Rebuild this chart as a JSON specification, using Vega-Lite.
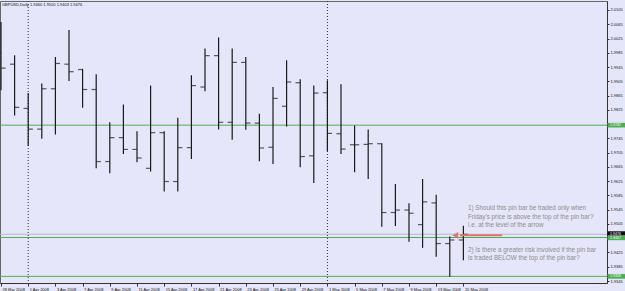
{
  "$schema": "https://vega.github.io/schema/vega-lite/v6.json",
  "width": 607,
  "height": 282,
  "autosize": {"type": "none"},
  "padding": {"left": 0, "top": 1, "right": 18, "bottom": 8},
  "background": "#e6e6fa",
  "config": {
    "view": {"stroke": "#666666", "strokeWidth": 1},
    "font": "Liberation Sans",
    "axis": {"grid": false, "title": null, "labelFontSize": 4, "labelColor": "#111111", "tickColor": "#333333", "domainColor": "#333333", "labelOverlap": false, "labelFlush": false}
  },
  "datasets": {
    "bars": [
      {"i": 0, "date": "28 Mar 2008", "open": 1.9985, "high": 2.0071, "low": 1.9880, "close": 1.9942},
      {"i": 1, "date": "31 Mar 2008", "open": 1.9953, "high": 1.9978, "low": 1.9809, "close": 1.9832},
      {"i": 2, "date": "1 Apr 2008", "open": 1.9829, "high": 1.9872, "low": 1.9724, "close": 1.9771},
      {"i": 3, "date": "2 Apr 2008", "open": 1.9771, "high": 1.9899, "low": 1.9744, "close": 1.9884},
      {"i": 4, "date": "3 Apr 2008", "open": 1.9884, "high": 1.9973, "low": 1.9756, "close": 1.9955},
      {"i": 5, "date": "4 Apr 2008", "open": 1.9953, "high": 2.0049, "low": 1.9906, "close": 1.9932},
      {"i": 6, "date": "7 Apr 2008", "open": 1.9938, "high": 1.9940, "low": 1.9831, "close": 1.9882},
      {"i": 7, "date": "8 Apr 2008", "open": 1.9882, "high": 1.9925, "low": 1.9661, "close": 1.9680},
      {"i": 8, "date": "9 Apr 2008", "open": 1.9680, "high": 1.9790, "low": 1.9647, "close": 1.9747},
      {"i": 9, "date": "10 Apr 2008", "open": 1.9747, "high": 1.9840, "low": 1.9701, "close": 1.9714},
      {"i": 10, "date": "11 Apr 2008", "open": 1.9714, "high": 1.9765, "low": 1.9678, "close": 1.9690},
      {"i": 11, "date": "14 Apr 2008", "open": 1.9661, "high": 1.9893, "low": 1.9652, "close": 1.9761},
      {"i": 12, "date": "15 Apr 2008", "open": 1.9761, "high": 1.9765, "low": 1.9596, "close": 1.9624},
      {"i": 13, "date": "16 Apr 2008", "open": 1.9624, "high": 1.9803, "low": 1.9596, "close": 1.9719},
      {"i": 14, "date": "17 Apr 2008", "open": 1.9719, "high": 1.9922, "low": 1.9687, "close": 1.9893},
      {"i": 15, "date": "18 Apr 2008", "open": 1.9889, "high": 1.9997, "low": 1.9877, "close": 1.9977},
      {"i": 16, "date": "21 Apr 2008", "open": 1.9977, "high": 2.0028, "low": 1.9770, "close": 1.9790},
      {"i": 17, "date": "22 Apr 2008", "open": 1.9790, "high": 1.9997, "low": 1.9741, "close": 1.9958},
      {"i": 18, "date": "23 Apr 2008", "open": 1.9958, "high": 1.9973, "low": 1.9769, "close": 1.9788},
      {"i": 19, "date": "24 Apr 2008", "open": 1.9788, "high": 1.9814, "low": 1.9681, "close": 1.9718},
      {"i": 20, "date": "25 Apr 2008", "open": 1.9720, "high": 1.9889, "low": 1.9673, "close": 1.9857},
      {"i": 21, "date": "28 Apr 2008", "open": 1.9835, "high": 1.9964, "low": 1.9778, "close": 1.9903},
      {"i": 22, "date": "29 Apr 2008", "open": 1.9901, "high": 1.9911, "low": 1.9664, "close": 1.9694},
      {"i": 23, "date": "30 Apr 2008", "open": 1.9696, "high": 1.9893, "low": 1.9620, "close": 1.9872},
      {"i": 24, "date": "1 May 2008", "open": 1.9873, "high": 1.9908, "low": 1.9709, "close": 1.9759},
      {"i": 25, "date": "2 May 2008", "open": 1.9758, "high": 1.9897, "low": 1.9701, "close": 1.9715},
      {"i": 26, "date": "5 May 2008", "open": 1.9727, "high": 1.9781, "low": 1.9650, "close": 1.9727},
      {"i": 27, "date": "6 May 2008", "open": 1.9728, "high": 1.9770, "low": 1.9631, "close": 1.9730},
      {"i": 28, "date": "7 May 2008", "open": 1.9730, "high": 1.9731, "low": 1.9497, "close": 1.9537},
      {"i": 29, "date": "8 May 2008", "open": 1.9537, "high": 1.9617, "low": 1.9499, "close": 1.9544},
      {"i": 30, "date": "9 May 2008", "open": 1.9544, "high": 1.9563, "low": 1.9455, "close": 1.9535},
      {"i": 31, "date": "12 May 2008", "open": 1.9503, "high": 1.9631, "low": 1.9438, "close": 1.9567},
      {"i": 32, "date": "13 May 2008", "open": 1.9564, "high": 1.9587, "low": 1.9413, "close": 1.9450},
      {"i": 33, "date": "14 May 2008", "open": 1.9450, "high": 1.9470, "low": 1.9357, "close": 1.9460},
      {"i": 34, "date": "15 May 2008", "open": 1.9460, "high": 1.9500, "low": 1.9403, "close": 1.9476}
    ],
    "seps": [{"i": 2}, {"i": 24}],
    "green": [{"price": 1.9782}, {"price": 1.9467}, {"price": 1.9358}],
    "bid": [{"price": 1.9476}],
    "tags": [
      {"x1": 44.6, "x2": 46.1, "xt": 44.78, "price": 1.9782, "lo": 1.97755, "hi": 1.97885, "label": "1.9782", "kind": "green"},
      {"x1": 44.6, "x2": 46.1, "xt": 44.78, "price": 1.9478, "lo": 1.94725, "hi": 1.94845, "label": "1.9476", "kind": "bid"},
      {"x1": 44.6, "x2": 46.1, "xt": 44.78, "price": 1.9465, "lo": 1.94595, "hi": 1.94715, "label": "1.9467", "kind": "green"},
      {"x1": 44.6, "x2": 46.1, "xt": 44.78, "price": 1.9358, "lo": 1.93515, "hi": 1.93645, "label": "1.9358", "kind": "green"}
    ],
    "arrow": [{"x1": 33.75, "x2": 36.85, "price": 1.9473, "head": 33.4}],
    "notes": [
      {"x": 34.34, "price": 1.9550, "text": "1) Should this pin bar be traded only when"},
      {"x": 34.34, "price": 1.9525, "text": "Friday's price is above the top of the pin bar?"},
      {"x": 34.34, "price": 1.9502, "text": "i.e. at the level of the arrow"},
      {"x": 34.34, "price": 1.9431, "text": "2) Is there a greater risk involved if the pin bar"},
      {"x": 34.34, "price": 1.9410, "text": "is traded BELOW the top of the pin bar?"}
    ],
    "head": [{"x": 0.07, "price": 2.0119, "text": "GBPUSD,Daily  1.9460 1.9500 1.9403 1.9476"}]
  },
  "layer": [
    {
      "data": {"name": "seps"},
      "mark": {"type": "rule", "color": "#333333", "strokeWidth": 1, "strokeDash": [1, 2]},
      "encoding": {
        "x": {"field": "i", "type": "quantitative",
          "scale": {"domain": [-0.0735, 44.56], "nice": false, "zero": false},
          "axis": {"orient": "bottom",
            "values": [0, 2, 4, 6, 8, 10, 12, 14, 16, 18, 20, 22, 24, 26, 28, 30, 32, 34],
            "labelExpr": "['28 Mar 2008','1 Apr 2008','3 Apr 2008','7 Apr 2008','9 Apr 2008','11 Apr 2008','15 Apr 2008','17 Apr 2008','21 Apr 2008','23 Apr 2008','25 Apr 2008','29 Apr 2008','1 May 2008','5 May 2008','7 May 2008','9 May 2008','13 May 2008','15 May 2008'][datum.value/2]",
            "labelAlign": "left", "labelBaseline": "top", "labelPadding": 1, "labelOffset": 1, "tickSize": 3}}
      }
    },
    {
      "data": {"name": "bid"},
      "mark": {"type": "rule", "color": "#b9b9c6", "strokeWidth": 1},
      "encoding": {
        "y": {"field": "price", "type": "quantitative",
          "scale": {"domain": [1.93394, 2.01302], "nice": false, "zero": false},
          "axis": {"orient": "right",
            "values": [1.9345, 1.9385, 1.9425, 1.9505, 1.9545, 1.9585, 1.9625, 1.9665, 1.9705, 1.9745, 1.9825, 1.9865, 1.9905, 1.9945, 1.9985, 2.0025, 2.0065, 2.0105],
            "format": ".4f", "labelAlign": "left", "labelPadding": 1, "tickSize": 2}}
      }
    },
    {
      "data": {"name": "green"},
      "mark": {"type": "rule", "color": "#4caf50", "strokeWidth": 1},
      "encoding": {"y": {"field": "price", "type": "quantitative",
          "axis": {"orient": "right",
            "values": [1.9345, 1.9385, 1.9425, 1.9505, 1.9545, 1.9585, 1.9625, 1.9665, 1.9705, 1.9745, 1.9825, 1.9865, 1.9905, 1.9945, 1.9985, 2.0025, 2.0065, 2.0105],
            "format": ".4f", "labelAlign": "left", "labelPadding": 1, "tickSize": 2}}}
    },
    {
      "data": {"name": "bars"},
      "mark": {"type": "rule", "color": "#1a1a1a", "strokeWidth": 1.2},
      "encoding": {
        "x": {"field": "i", "type": "quantitative",
          "axis": {"orient": "bottom",
            "values": [0, 2, 4, 6, 8, 10, 12, 14, 16, 18, 20, 22, 24, 26, 28, 30, 32, 34],
            "labelExpr": "['28 Mar 2008','1 Apr 2008','3 Apr 2008','7 Apr 2008','9 Apr 2008','11 Apr 2008','15 Apr 2008','17 Apr 2008','21 Apr 2008','23 Apr 2008','25 Apr 2008','29 Apr 2008','1 May 2008','5 May 2008','7 May 2008','9 May 2008','13 May 2008','15 May 2008'][datum.value/2]",
            "labelAlign": "left", "labelBaseline": "top", "labelPadding": 1, "labelOffset": 1, "tickSize": 3}},
        "y": {"field": "low", "type": "quantitative",
          "axis": {"orient": "right",
            "values": [1.9345, 1.9385, 1.9425, 1.9505, 1.9545, 1.9585, 1.9625, 1.9665, 1.9705, 1.9745, 1.9825, 1.9865, 1.9905, 1.9945, 1.9985, 2.0025, 2.0065, 2.0105],
            "format": ".4f", "labelAlign": "left", "labelPadding": 1, "tickSize": 2}},
        "y2": {"field": "high"}
      }
    },
    {
      "data": {"name": "bars"},
      "mark": {"type": "tick", "orient": "horizontal", "color": "#1a1a1a", "size": 4.5, "thickness": 1.2, "xOffset": -2.4},
      "encoding": {
        "x": {"field": "i", "type": "quantitative",
          "axis": {"orient": "bottom",
            "values": [0, 2, 4, 6, 8, 10, 12, 14, 16, 18, 20, 22, 24, 26, 28, 30, 32, 34],
            "labelExpr": "['28 Mar 2008','1 Apr 2008','3 Apr 2008','7 Apr 2008','9 Apr 2008','11 Apr 2008','15 Apr 2008','17 Apr 2008','21 Apr 2008','23 Apr 2008','25 Apr 2008','29 Apr 2008','1 May 2008','5 May 2008','7 May 2008','9 May 2008','13 May 2008','15 May 2008'][datum.value/2]",
            "labelAlign": "left", "labelBaseline": "top", "labelPadding": 1, "labelOffset": 1, "tickSize": 3}},
        "y": {"field": "open", "type": "quantitative",
          "axis": {"orient": "right",
            "values": [1.9345, 1.9385, 1.9425, 1.9505, 1.9545, 1.9585, 1.9625, 1.9665, 1.9705, 1.9745, 1.9825, 1.9865, 1.9905, 1.9945, 1.9985, 2.0025, 2.0065, 2.0105],
            "format": ".4f", "labelAlign": "left", "labelPadding": 1, "tickSize": 2}}
      }
    },
    {
      "data": {"name": "bars"},
      "mark": {"type": "tick", "orient": "horizontal", "color": "#1a1a1a", "size": 4.5, "thickness": 1.2, "xOffset": 2.4},
      "encoding": {
        "x": {"field": "i", "type": "quantitative",
          "axis": {"orient": "bottom",
            "values": [0, 2, 4, 6, 8, 10, 12, 14, 16, 18, 20, 22, 24, 26, 28, 30, 32, 34],
            "labelExpr": "['28 Mar 2008','1 Apr 2008','3 Apr 2008','7 Apr 2008','9 Apr 2008','11 Apr 2008','15 Apr 2008','17 Apr 2008','21 Apr 2008','23 Apr 2008','25 Apr 2008','29 Apr 2008','1 May 2008','5 May 2008','7 May 2008','9 May 2008','13 May 2008','15 May 2008'][datum.value/2]",
            "labelAlign": "left", "labelBaseline": "top", "labelPadding": 1, "labelOffset": 1, "tickSize": 3}},
        "y": {"field": "close", "type": "quantitative",
          "axis": {"orient": "right",
            "values": [1.9345, 1.9385, 1.9425, 1.9505, 1.9545, 1.9585, 1.9625, 1.9665, 1.9705, 1.9745, 1.9825, 1.9865, 1.9905, 1.9945, 1.9985, 2.0025, 2.0065, 2.0105],
            "format": ".4f", "labelAlign": "left", "labelPadding": 1, "tickSize": 2}}
      }
    },
    {
      "data": {"name": "arrow"},
      "mark": {"type": "rule", "color": "#e57373", "strokeWidth": 2},
      "encoding": {
        "x": {"field": "x1", "type": "quantitative",
          "axis": {"orient": "bottom",
            "values": [0, 2, 4, 6, 8, 10, 12, 14, 16, 18, 20, 22, 24, 26, 28, 30, 32, 34],
            "labelExpr": "['28 Mar 2008','1 Apr 2008','3 Apr 2008','7 Apr 2008','9 Apr 2008','11 Apr 2008','15 Apr 2008','17 Apr 2008','21 Apr 2008','23 Apr 2008','25 Apr 2008','29 Apr 2008','1 May 2008','5 May 2008','7 May 2008','9 May 2008','13 May 2008','15 May 2008'][datum.value/2]",
            "labelAlign": "left", "labelBaseline": "top", "labelPadding": 1, "labelOffset": 1, "tickSize": 3}},
        "x2": {"field": "x2"},
        "y": {"field": "price", "type": "quantitative",
          "axis": {"orient": "right",
            "values": [1.9345, 1.9385, 1.9425, 1.9505, 1.9545, 1.9585, 1.9625, 1.9665, 1.9705, 1.9745, 1.9825, 1.9865, 1.9905, 1.9945, 1.9985, 2.0025, 2.0065, 2.0105],
            "format": ".4f", "labelAlign": "left", "labelPadding": 1, "tickSize": 2}}
      }
    },
    {
      "data": {"name": "arrow"},
      "mark": {"type": "point", "shape": "triangle-left", "filled": true, "color": "#e57373", "size": 45, "opacity": 1},
      "encoding": {
        "x": {"field": "head", "type": "quantitative",
          "axis": {"orient": "bottom",
            "values": [0, 2, 4, 6, 8, 10, 12, 14, 16, 18, 20, 22, 24, 26, 28, 30, 32, 34],
            "labelExpr": "['28 Mar 2008','1 Apr 2008','3 Apr 2008','7 Apr 2008','9 Apr 2008','11 Apr 2008','15 Apr 2008','17 Apr 2008','21 Apr 2008','23 Apr 2008','25 Apr 2008','29 Apr 2008','1 May 2008','5 May 2008','7 May 2008','9 May 2008','13 May 2008','15 May 2008'][datum.value/2]",
            "labelAlign": "left", "labelBaseline": "top", "labelPadding": 1, "labelOffset": 1, "tickSize": 3}},
        "y": {"field": "price", "type": "quantitative",
          "axis": {"orient": "right",
            "values": [1.9345, 1.9385, 1.9425, 1.9505, 1.9545, 1.9585, 1.9625, 1.9665, 1.9705, 1.9745, 1.9825, 1.9865, 1.9905, 1.9945, 1.9985, 2.0025, 2.0065, 2.0105],
            "format": ".4f", "labelAlign": "left", "labelPadding": 1, "tickSize": 2}}
      }
    },
    {
      "data": {"name": "notes"},
      "mark": {"type": "text", "align": "left", "baseline": "middle", "fontSize": 6.3, "color": "#8c8c8c", "font": "Liberation Sans"},
      "encoding": {
        "x": {"field": "x", "type": "quantitative",
          "axis": {"orient": "bottom",
            "values": [0, 2, 4, 6, 8, 10, 12, 14, 16, 18, 20, 22, 24, 26, 28, 30, 32, 34],
            "labelExpr": "['28 Mar 2008','1 Apr 2008','3 Apr 2008','7 Apr 2008','9 Apr 2008','11 Apr 2008','15 Apr 2008','17 Apr 2008','21 Apr 2008','23 Apr 2008','25 Apr 2008','29 Apr 2008','1 May 2008','5 May 2008','7 May 2008','9 May 2008','13 May 2008','15 May 2008'][datum.value/2]",
            "labelAlign": "left", "labelBaseline": "top", "labelPadding": 1, "labelOffset": 1, "tickSize": 3}},
        "y": {"field": "price", "type": "quantitative",
          "axis": {"orient": "right",
            "values": [1.9345, 1.9385, 1.9425, 1.9505, 1.9545, 1.9585, 1.9625, 1.9665, 1.9705, 1.9745, 1.9825, 1.9865, 1.9905, 1.9945, 1.9985, 2.0025, 2.0065, 2.0105],
            "format": ".4f", "labelAlign": "left", "labelPadding": 1, "tickSize": 2}},
        "text": {"field": "text"}
      }
    },
    {
      "data": {"name": "head"},
      "mark": {"type": "text", "align": "left", "baseline": "middle", "fontSize": 4, "color": "#111111", "font": "Liberation Sans"},
      "encoding": {
        "x": {"field": "x", "type": "quantitative",
          "axis": {"orient": "bottom",
            "values": [0, 2, 4, 6, 8, 10, 12, 14, 16, 18, 20, 22, 24, 26, 28, 30, 32, 34],
            "labelExpr": "['28 Mar 2008','1 Apr 2008','3 Apr 2008','7 Apr 2008','9 Apr 2008','11 Apr 2008','15 Apr 2008','17 Apr 2008','21 Apr 2008','23 Apr 2008','25 Apr 2008','29 Apr 2008','1 May 2008','5 May 2008','7 May 2008','9 May 2008','13 May 2008','15 May 2008'][datum.value/2]",
            "labelAlign": "left", "labelBaseline": "top", "labelPadding": 1, "labelOffset": 1, "tickSize": 3}},
        "y": {"field": "price", "type": "quantitative",
          "axis": {"orient": "right",
            "values": [1.9345, 1.9385, 1.9425, 1.9505, 1.9545, 1.9585, 1.9625, 1.9665, 1.9705, 1.9745, 1.9825, 1.9865, 1.9905, 1.9945, 1.9985, 2.0025, 2.0065, 2.0105],
            "format": ".4f", "labelAlign": "left", "labelPadding": 1, "tickSize": 2}},
        "text": {"field": "text"}
      }
    },
    {
      "data": {"name": "tags"},
      "mark": {"type": "rect", "clip": false},
      "encoding": {
        "x": {"field": "x1", "type": "quantitative",
          "axis": {"orient": "bottom",
            "values": [0, 2, 4, 6, 8, 10, 12, 14, 16, 18, 20, 22, 24, 26, 28, 30, 32, 34],
            "labelExpr": "['28 Mar 2008','1 Apr 2008','3 Apr 2008','7 Apr 2008','9 Apr 2008','11 Apr 2008','15 Apr 2008','17 Apr 2008','21 Apr 2008','23 Apr 2008','25 Apr 2008','29 Apr 2008','1 May 2008','5 May 2008','7 May 2008','9 May 2008','13 May 2008','15 May 2008'][datum.value/2]",
            "labelAlign": "left", "labelBaseline": "top", "labelPadding": 1, "labelOffset": 1, "tickSize": 3}},
        "x2": {"field": "x2"},
        "y": {"field": "lo", "type": "quantitative",
          "axis": {"orient": "right",
            "values": [1.9345, 1.9385, 1.9425, 1.9505, 1.9545, 1.9585, 1.9625, 1.9665, 1.9705, 1.9745, 1.9825, 1.9865, 1.9905, 1.9945, 1.9985, 2.0025, 2.0065, 2.0105],
            "format": ".4f", "labelAlign": "left", "labelPadding": 1, "tickSize": 2}},
        "y2": {"field": "hi"},
        "color": {"field": "kind", "type": "nominal", "scale": {"domain": ["green", "bid"], "range": ["#4caf50", "#111111"]}, "legend": null}
      }
    },
    {
      "data": {"name": "tags"},
      "mark": {"type": "text", "align": "left", "baseline": "middle", "fontSize": 3.6, "color": "#ffffff", "font": "Liberation Sans", "clip": false},
      "encoding": {
        "x": {"field": "xt", "type": "quantitative",
          "axis": {"orient": "bottom",
            "values": [0, 2, 4, 6, 8, 10, 12, 14, 16, 18, 20, 22, 24, 26, 28, 30, 32, 34],
            "labelExpr": "['28 Mar 2008','1 Apr 2008','3 Apr 2008','7 Apr 2008','9 Apr 2008','11 Apr 2008','15 Apr 2008','17 Apr 2008','21 Apr 2008','23 Apr 2008','25 Apr 2008','29 Apr 2008','1 May 2008','5 May 2008','7 May 2008','9 May 2008','13 May 2008','15 May 2008'][datum.value/2]",
            "labelAlign": "left", "labelBaseline": "top", "labelPadding": 1, "labelOffset": 1, "tickSize": 3}},
        "y": {"field": "price", "type": "quantitative",
          "axis": {"orient": "right",
            "values": [1.9345, 1.9385, 1.9425, 1.9505, 1.9545, 1.9585, 1.9625, 1.9665, 1.9705, 1.9745, 1.9825, 1.9865, 1.9905, 1.9945, 1.9985, 2.0025, 2.0065, 2.0105],
            "format": ".4f", "labelAlign": "left", "labelPadding": 1, "tickSize": 2}},
        "text": {"field": "label"}
      }
    }
  ]
}
